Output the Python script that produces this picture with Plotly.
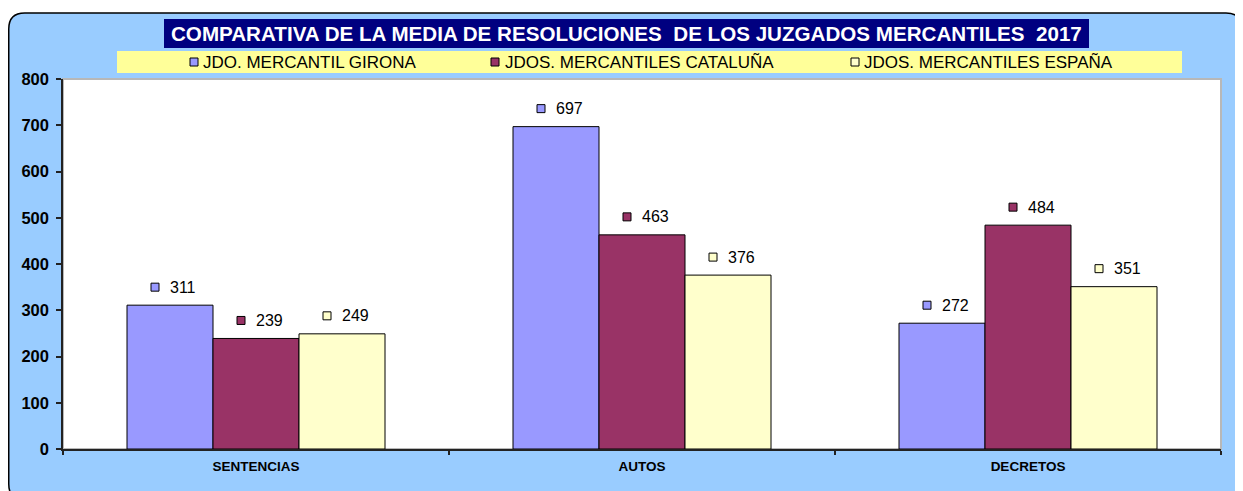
import plotly.graph_objects as go

categories = ["SENTENCIAS", "AUTOS", "DECRETOS"]
series_names = ["JDO. MERCANTIL GIRONA", "JDOS. MERCANTILES CATALUÑA", "JDOS. MERCANTILES ESPAÑA"]
girona = [311, 697, 272]
cataluna = [239, 463, 484]
espana = [249, 376, 351]
y_ticks = [0, 100, 200, 300, 400, 500, 600, 700, 800]
title_text = "COMPARATIVA DE LA MEDIA DE RESOLUCIONES  DE LOS JUZGADOS MERCANTILES  2017"

colors = ["#9999FF", "#993366", "#FFFFCC"]
series_values = [girona, cataluna, espana]

# the page adds an 8px body margin; layout is expressed in page pixels and shifted
OFF = 8
PLOT_L, PLOT_R, PLOT_T, PLOT_B = 63, 1221, 79, 449
W, H = 1243 - OFF, 491 - OFF
L = PLOT_L - OFF
T = PLOT_T - OFF
R = W - (PLOT_R - OFF)
B = H - (PLOT_B - OFF)
PW = PLOT_R - PLOT_L
PH = PLOT_B - PLOT_T


def fx(px):
    return (px - PLOT_L) / PW


def fy(py):
    return (PLOT_B - py) / PH


FONT = "Liberation Sans, Arial, sans-serif"
CAT_PX = PW / len(categories)
BW = 86 / CAT_PX  # bar width in category units
YPX = 800 / PH  # data units per pixel

fig = go.Figure()
xs = list(range(len(categories)))
for s, (name, vals, col) in enumerate(zip(series_names, series_values, colors)):
    fig.add_trace(go.Bar(
        x=xs, y=vals, name=name, marker=dict(color=col, line=dict(color="#000000", width=1)),
        width=BW, offset=(s - 1.5) * BW, showlegend=False, hoverinfo="y",
    ))
    fig.add_trace(go.Scatter(
        x=[i + (s - 1) * BW - 15 / CAT_PX for i in xs],
        y=[v + 18 * YPX for v in vals],
        mode="markers",
        marker=dict(symbol="square", size=8, color=col, line=dict(color="#000000", width=1)),
        showlegend=False, hoverinfo="skip", cliponaxis=False,
    ))

annotations = []
for s, vals in enumerate(series_values):
    for i, v in enumerate(vals):
        annotations.append(dict(
            x=i + (s - 1) * BW - 2 / CAT_PX, y=v, yshift=18, xref="x", yref="y",
            text=str(v), showarrow=False, xanchor="left", yanchor="middle",
            font=dict(family=FONT, size=16, color="#000000"),
        ))

# title
annotations.append(dict(
    x=fx((164 + 1089) / 2), y=fy(33.5), xref="paper", yref="paper", text="<b>" + title_text + "</b>",
    showarrow=False, xanchor="center", yanchor="middle",
    font=dict(family=FONT, size=20.6, color="#FFFFFF"),
))

leg_sq = [190, 491, 851]
leg_txt = [201, 503, 862]
shapes = []

# outer rounded frame
x0, x1, y0, y1 = fx(OFF + 0.75), fx(1242), fy(13), fy(500)
rx, ry = 16 / PW, 16 / PH
path = (f"M {x0+rx},{y0} L {x1-rx},{y0} Q {x1},{y0} {x1},{y0-ry} "
        f"L {x1},{y1+ry} Q {x1},{y1} {x1-rx},{y1} L {x0+rx},{y1} Q {x0},{y1} {x0},{y1+ry} "
        f"L {x0},{y0-ry} Q {x0},{y0} {x0+rx},{y0} Z")
shapes.append(dict(type="path", path=path, xref="paper", yref="paper", fillcolor="#99CCFF",
                   line=dict(color="#000000", width=1.5), layer="below"))
shapes.append(dict(type="rect", xref="paper", yref="paper", x0=0, x1=1, y0=0, y1=1,
                   fillcolor="#FFFFFF", line=dict(color="#B8B8B8", width=2), layer="below"))
shapes.append(dict(type="rect", xref="paper", yref="paper", x0=fx(164), x1=fx(1089), y0=fy(48), y1=fy(19),
                   fillcolor="#000080", line=dict(width=0), layer="below"))
shapes.append(dict(type="rect", xref="paper", yref="paper", x0=fx(117), x1=fx(1182), y0=fy(73), y1=fy(51),
                   fillcolor="#FFFF99", line=dict(width=0), layer="below"))
for k, (name, col) in enumerate(zip(series_names, colors)):
    shapes.append(dict(type="rect", xref="paper", yref="paper", x0=fx(leg_sq[k]), x1=fx(leg_sq[k] + 8),
                       y0=fy(66), y1=fy(58), fillcolor=col, line=dict(color="#000000", width=1), layer="above"))
    annotations.append(dict(x=fx(leg_txt[k]), y=fy(62), xref="paper", yref="paper", text=name,
                            showarrow=False, xanchor="left", yanchor="middle",
                            font=dict(family=FONT, size=17, color="#000000")))

fig.update_layout(
    width=W, height=H, margin=dict(l=L, r=R, t=T, b=B, pad=0),
    paper_bgcolor="#FFFFFF", plot_bgcolor="rgba(0,0,0,0)",
    barmode="overlay", shapes=shapes, annotations=annotations,
    xaxis=dict(range=[-0.5, 2.5], tickvals=xs, ticktext=["<b>%s</b>" % c for c in categories],
               ticks="", showgrid=False, zeroline=False, showline=True, linecolor="#222222", linewidth=1.5,
               tickfont=dict(family=FONT, size=13.5, color="#000000"), ticklabelstandoff=4,
               minor=dict(tickvals=[-0.5, 0.5, 1.5, 2.5], ticks="outside", ticklen=4, tickcolor="#222222",
                          tickwidth=1.5, showgrid=False)),
    yaxis=dict(range=[0, 800], tickvals=y_ticks, ticktext=["<b>%d</b>" % v for v in y_ticks],
               ticks="outside", ticklen=5, tickcolor="#222222", tickwidth=1.5, showgrid=False,
               zeroline=False, showline=True, linecolor="#222222", linewidth=1.5,
               tickfont=dict(family=FONT, size=16.5, color="#000000"), ticklabelstandoff=4),
)

fig.write_html("out.html")
